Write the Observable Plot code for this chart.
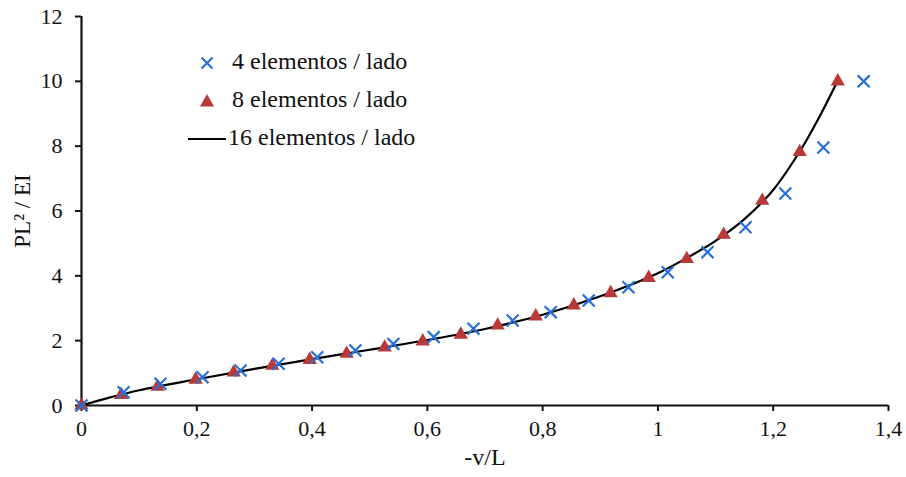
<!DOCTYPE html>
<html>
<head>
<meta charset="utf-8">
<script src="https://cdn.jsdelivr.net/npm/d3@7"></script>
<script src="https://cdn.jsdelivr.net/npm/@observablehq/plot@0.6"></script>
<style>
  html, body { margin: 0; padding: 0; background: #fff; }
  #wrap { position: relative; width: 906px; height: 477px; font-family: "Liberation Serif", "Times New Roman", serif; }
  .legend { position: absolute; left: 184px; top: 0; width: 320px; height: 200px; font-size: 24px; color: #111; }
  .icon { position: absolute; left: 0; width: 46px; height: 20px; }
  .lbl { position: absolute; white-space: nowrap; line-height: 1; }
</style>
</head>
<body>
<div id="wrap"></div>
<script>
// 4 elementos / lado (crosses)
const x4 = [0, 0.073, 0.137, 0.210, 0.276, 0.342, 0.409, 0.475, 0.541, 0.611, 0.680, 0.748, 0.814, 0.880, 0.949, 1.017, 1.086, 1.152, 1.221, 1.287, 1.357];
const y4 = [0, 0.41, 0.67, 0.87, 1.08, 1.29, 1.49, 1.70, 1.90, 2.11, 2.37, 2.62, 2.88, 3.24, 3.65, 4.11, 4.73, 5.50, 6.54, 7.96, 10.0];
// 8 elementos / lado (triangles)
const x8 = [0, 0.069, 0.132, 0.198, 0.264, 0.331, 0.396, 0.460, 0.526, 0.592, 0.658, 0.722, 0.788, 0.854, 0.918, 0.984, 1.050, 1.114, 1.181, 1.246, 1.312];
const y8 = [0, 0.33, 0.58, 0.80, 1.02, 1.23, 1.41, 1.60, 1.79, 1.98, 2.19, 2.47, 2.75, 3.09, 3.47, 3.94, 4.52, 5.27, 6.32, 7.82, 10.0];
// 16 elementos / lado (line)
const x16 = [0, 0.05, 0.1, 0.2, 0.3, 0.4, 0.5, 0.6, 0.7, 0.8, 0.9, 1.0, 1.05, 1.1, 1.15, 1.2, 1.25, 1.28, 1.31];
const y16 = [0, 0.25, 0.47, 0.81, 1.13, 1.43, 1.72, 2.02, 2.36, 2.80, 3.37, 4.08, 4.55, 5.08, 5.75, 6.65, 7.95, 8.9, 9.95];

const xTicks = [0, 0.2, 0.4, 0.6, 0.8, 1, 1.2, 1.4];
const yTicks = [0, 2, 4, 6, 8, 10, 12];
const xLabel = "-v/L";
const yLabel = "PL² / EI";
const seriesNames = ["4 elementos / lado", "8 elementos / lado", "16 elementos / lado"];
const colors = { cross: "#2670d6", tri: "#b7393a", line: "#000" };

const d4 = x4.map((x, i) => ({ x, y: y4[i] }));
const d8 = x8.map((x, i) => ({ x, y: y8[i] }));
const d16 = x16.map((x, i) => ({ x, y: y16[i] }));

const fmt = d => String(d).replace(".", ",");

const chart = Plot.plot({
  width: 906,
  height: 477,
  marginTop: 16,
  marginRight: 18,
  marginBottom: 72,
  marginLeft: 81,
  style: { fontFamily: "'Liberation Serif', 'Times New Roman', serif", fontSize: "22px", color: "#111", background: "#fff" },
  x: { domain: [0, 1.4] },
  y: { domain: [0, 12] },
  marks: [
    Plot.axisX({ ticks: xTicks, tickFormat: fmt, tickSize: 6, tickPadding: 9, label: null, stroke: "#111", strokeWidth: 2 }),
    Plot.axisY({ ticks: yTicks, tickFormat: fmt, tickSize: 6, tickPadding: 13, label: null, stroke: "#111", strokeWidth: 2 }),
    Plot.ruleX([0], { stroke: "#111", strokeWidth: 2.2 }),
    Plot.ruleY([0], { stroke: "#111", strokeWidth: 2.2 }),
    Plot.text([xLabel], { frameAnchor: "bottom", dy: 59, fontSize: 24, fill: "#111" }),
    Plot.text([yLabel], { frameAnchor: "left", textAnchor: "middle", dx: -59, rotate: -90, fontSize: 23, fill: "#111" }),
    Plot.line(d16, { x: "x", y: "y", curve: "catmull-rom", stroke: colors.line, strokeWidth: 2.2 }),
    Plot.dot(d8, { x: "x", y: "y", symbol: "triangle", r: 5.3, fill: colors.tri, stroke: "none" }),
    Plot.dot(d4, { x: "x", y: "y", symbol: "times", r: 5.5, stroke: colors.cross, strokeWidth: 2.2 })
  ]
});

const wrap = document.getElementById("wrap");
wrap.appendChild(chart);

const legend = document.createElement("div");
legend.className = "legend";
const icons = [
  `<svg class="icon" viewBox="0 0 46 20"><path d="M17.5 4.5 L28.5 15.5 M28.5 4.5 L17.5 15.5" stroke="${colors.cross}" stroke-width="2.2" fill="none"/></svg>`,
  `<svg class="icon" viewBox="0 0 46 20"><path d="M23 3 L30 15.5 L16 15.5 Z" fill="${colors.tri}"/></svg>`,
  `<svg class="icon" viewBox="0 0 46 20"><path d="M4 10 L42 10" stroke="#000" stroke-width="2.2"/></svg>`
];
const rowY = [63, 101, 139];
const textX = [48, 48, 44];
legend.innerHTML = seriesNames.map((n, i) =>
  `<div style="position:absolute;left:0;top:${rowY[i] - 10}px;width:320px;height:20px;">${icons[i]}` +
  `<span class="lbl" style="left:${textX[i]}px;top:-4px;">${n}</span></div>`).join("");
wrap.appendChild(legend);
</script>
</body>
</html>
